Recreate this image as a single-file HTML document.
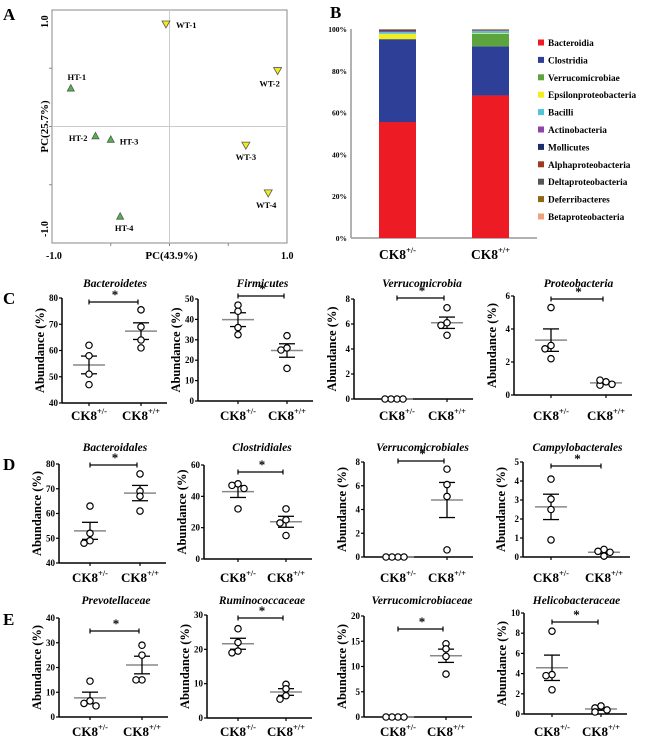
<!DOCTYPE html>
<html><head><meta charset="utf-8"><style>
html,body{margin:0;padding:0;background:#fff}
svg{display:block;font-family:"Liberation Serif",serif;font-weight:bold}
</style></head><body>
<svg id="fig" width="650" height="738" viewBox="0 0 650 738" xmlns="http://www.w3.org/2000/svg">
<text x="3" y="20" font-size="17">A</text>
<text x="330" y="18" font-size="17">B</text>
<text x="3" y="304" font-size="17">C</text>
<text x="3" y="470" font-size="17">D</text>
<text x="3" y="625" font-size="17">E</text>
</svg>
<script>
// ---- Panel A data ----
const pcaNames = ["WT-1","WT-2","HT-1","HT-2","HT-3","WT-3","WT-4","HT-4"];
const pcaX = [-0.03,0.92,-0.84,-0.63,-0.5,0.65,0.84,-0.42];
const pcaY = [0.88,0.48,0.33,-0.08,-0.11,-0.16,-0.57,-0.77];
// ---- Panel B data ----
const classNames = ["Bacteroidia","Clostridia","Verrucomicrobiae","Epsilonproteobacteria","Bacilli","Actinobacteria","Mollicutes","Alphaproteobacteria","Deltaproteobacteria","Deferribacteres","Betaproteobacteria"];
const hetComposition = [55.5,39.5,0.2,2.5,0.8,0.4,0.4,0.2,0.2,0.2,0.1];
const wtComposition = [68.2,23.5,6,0.3,1,0.2,0.2,0.2,0.1,0.2,0.1];
const compTicks = ["0%","20%","40%","60%","80%","100%"];
// ---- Scatter panels data ----
const bacteroidetesHet=[62,58,51,47], bacteroidetesWt=[75.5,69,64,61];
const firmicutesHet=[47,44,36,32.5], firmicutesWt=[32,26,25,16];
const verrucomicrobiaHet=[0,0,0,0], verrucomicrobiaWt=[7.3,6.1,5.9,5.1];
const proteobacteriaHet=[5.3,3.0,2.8,2.2], proteobacteriaWt=[0.8,0.6,0.65,0.9];
const bacteroidalesHet=[63,52,49,48], bacteroidalesWt=[76,69,67,61];
const clostridialesHet=[48,47,45,32], clostridialesWt=[32,25,23,15];
const verrucomicrobialesHet=[0,0,0,0], verrucomicrobialesWt=[7.4,6.1,5.1,0.6];
const campylobacteralesHet=[4.1,3.05,2.5,0.9], campylobacteralesWt=[0.4,0.3,0.25,0.05];
const prevotellaceaeHet=[14.5,6.5,5.5,4.5], prevotellaceaeWt=[29,25,15,15];
const ruminococcaceaeHet=[26,22,19.5,19], ruminococcaceaeWt=[9.8,8.5,6.5,5.5];
const verrucomicrobiaceaeHet=[0,0,0,0], verrucomicrobiaceaeWt=[14.5,13.5,12,8.5];
const helicobacteraceaeHet=[8.2,3.9,3.8,2.4], helicobacteraceaeWt=[0.8,0.6,0.4,0.2];

const NS="http://www.w3.org/2000/svg";
const svg=document.getElementById('fig');
function mk(tag,attrs,parent){const e=document.createElementNS(NS,tag);for(const k in attrs)e.setAttribute(k,attrs[k]);(parent||svg).appendChild(e);return e;}

// ===== Panel A =====
(function(){
  const g=mk('g',{});
  
  
  const L=52,R=287,T=10,B=243;
  const sx=v=>169.5+v*117.5, sy=v=>126.5-v*116.5;
  const box=mk('rect',{x:L,y:T,width:R-L,height:B-T,fill:'none',stroke:'#888','stroke-width':1},g);
  
  mk('line',{x1:sx(0),x2:sx(0),y1:T,y2:B,stroke:'#ccc'},g);
  mk('line',{x1:L,x2:R,y1:sy(0),y2:sy(0),stroke:'#ccc'},g);
  [-0.5,0,0.5].forEach(v=>{mk('line',{x1:L-3,x2:L,y1:sy(v),y2:sy(v),stroke:'#888'},g);mk('line',{x1:sx(v),x2:sx(v),y1:B,y2:B+3,stroke:'#888'},g);});
  const t1=mk('text',{x:sx(-1)-6,y:B+16,'font-size':10},g);t1.textContent='-1.0';
  
  const t2=mk('text',{x:sx(1)-6,y:B+16,'font-size':10},g);t2.textContent='1.0';
  
  const t3=mk('text',{x:0,y:0,'font-size':10,'text-anchor':'middle',transform:`translate(${L-4},${sy(0.9)}) rotate(-90)`},g);t3.textContent='1.0';
  
  const t4=mk('text',{x:0,y:0,'font-size':10,'text-anchor':'middle',transform:`translate(${L-4},${sy(-0.88)}) rotate(-90)`},g);t4.textContent='-1.0';
  
  const xt=mk('text',{x:sx(0)+2,y:B+16,'font-size':11,'text-anchor':'middle'},g);xt.textContent='PC(43.9%)';
  
  const yt=mk('text',{x:0,y:0,'font-size':11,'text-anchor':'middle',transform:`translate(${L-4},${sy(0)}) rotate(-90)`},g);yt.textContent='PC(25.7%)';
  
  const lblOff={"WT-1":[10,4,'start'],"WT-2":[-8,16,'middle'],"HT-1":[6,-8,'middle'],"HT-2":[-8,5,'end'],"HT-3":[9,5,'start'],"WT-3":[0,15,'middle'],"WT-4":[-2,15,'middle'],"HT-4":[4,15,'middle']};
  pcaNames.forEach((n,i)=>{
    const x=sx(pcaX[i]),y=sy(pcaY[i]);const wt=n.startsWith('WT');
    const pts=wt?`${x-4},${y-3} ${x+4},${y-3} ${x},${y+4}`:`${x-3.5},${y+3} ${x+3.5},${y+3} ${x},${y-3.5}`;
    const p=mk('polygon',{points:pts,fill:wt?'#F2EA1E':'#4CB848',stroke:'#555','stroke-width':0.8},g);
    
    
    const o=lblOff[n];
    const t=mk('text',{x:x+o[0],y:y+o[1],'font-size':8.5,'text-anchor':o[2]},g);t.textContent=n;
    
    
  });
})();

// ===== Panel B =====
(function(){
  const colors=['#ED1C24','#2E3F97','#5DA33E','#F4EB22','#4FC3D9','#8E44A8','#1B2E6B','#9C3B1E','#555555','#8B6914','#F0A07A'];
  const g=mk('g',{});
  
  
  const ax=351,yb=238,yt=29;const sy=p=>yb-p*(yb-yt)/100;
  mk('line',{x1:ax,x2:ax,y1:yt,y2:yb,stroke:'#999','stroke-width':1.5},g);
  mk('line',{x1:ax,x2:537,y1:yb,y2:yb,stroke:'#999','stroke-width':1.5},g);
  compTicks.forEach((s,i)=>{const t=mk('text',{x:ax-4,y:sy(i*20)+3,'font-size':7.5,'text-anchor':'end'},g);t.textContent=s;
    });
  [[hetComposition,379,'het','+/-'],[wtComposition,472,'wt','+/+']].forEach(([arr,x,k,sup])=>{
    let acc=0;
    arr.forEach((v,i)=>{const r=mk('rect',{x:x,y:sy(acc+v),width:37,height:Math.max(0,sy(acc)-sy(acc+v)),fill:colors[i]},g);
      
      acc+=v;});
    const t=mk('text',{x:x+18.5,y:259,'font-size':13.5,'text-anchor':'middle'},g);
    
    t.appendChild(document.createTextNode('CK8'));
    const ts=mk('tspan',{'font-size':8.5,dy:-6},t);ts.textContent=sup;
  });
  classNames.forEach((n,i)=>{
    const y=44+i*17.4;
    const r=mk('rect',{x:538,y:y-4.5,width:6,height:6,fill:colors[i]},g);
    
    const t=mk('text',{x:548,y:y+2,'font-size':9.3},g);t.textContent=n;
    
  });
})();

// ===== Scatter panels =====
function scatter(cfg){
  const {name,title,het,wt,ax,top,bot,ymin,ymax,step,c1,c2,brY,titleY,labelY}=cfg;
  const g=mk('g',{});
  
  
  const sy=v=>bot-(v-ymin)*(bot-top)/(ymax-ymin);
  const xEnd=c2+26;
  mk('line',{x1:ax,x2:ax,y1:top,y2:bot,stroke:'#000','stroke-width':1.5},g);
  mk('line',{x1:ax,x2:xEnd,y1:bot,y2:bot,stroke:'#000','stroke-width':1.5},g);
  [c1,c2].forEach(c=>mk('line',{x1:c,x2:c,y1:bot,y2:bot+3,stroke:'#000','stroke-width':1.2},g));
  for(let v=ymin;v<=ymax+1e-9;v+=step){
    mk('line',{x1:ax-3,x2:ax,y1:sy(v),y2:sy(v),stroke:'#000','stroke-width':1.2},g);
    const t=mk('text',{x:ax-4,y:sy(v)+3,'font-size':9,'text-anchor':'end'},g);t.textContent=String(Math.round(v*10)/10);
    
  }
  const yl=mk('text',{x:0,y:0,'font-size':12.5,'text-anchor':'middle',transform:`translate(${ax-18},${(top+bot)/2}) rotate(-90)`},g);
  yl.textContent='Abundance (%)';
  const tt=mk('text',{x:(c1+c2)/2,y:titleY,'font-size':11.5,'font-style':'italic','text-anchor':'middle'},g);
  tt.textContent=title;
  [[het,c1,'het','+/-'],[wt,c2,'wt','+/+']].forEach(([arr,c,k,sup])=>{
    const m=arr.reduce((a,b)=>a+b,0)/arr.length;
    const sd=Math.sqrt(arr.reduce((a,b)=>a+(b-m)*(b-m),0)/(arr.length-1));
    const se=sd/Math.sqrt(arr.length);
    const ml=mk('line',{x1:c-16,x2:c+16,y1:sy(m),y2:sy(m),stroke:'#888','stroke-width':1.5},g);
    
    if(se>0){
      mk('line',{x1:c,x2:c,y1:sy(m+se),y2:sy(m-se),stroke:'#000','stroke-width':1.3},g);
      mk('line',{x1:c-8,x2:c+8,y1:sy(m+se),y2:sy(m+se),stroke:'#000','stroke-width':1.3},g);
      mk('line',{x1:c-8,x2:c+8,y1:sy(m-se),y2:sy(m-se),stroke:'#000','stroke-width':1.3},g);
    }
    const range=ymax-ymin;const placed=[];
    arr.forEach((v,i)=>{
      const near=placed.filter(p=>Math.abs(p.v-v)<range*0.035);
      let dx=0;
      if(near.length){const opts=[-6,6,-12,12,0];dx=opts.find(o=>!near.some(p=>Math.abs(p.dx-o)<5));if(dx===undefined)dx=0;}
      placed.push({v,dx});
      const ci=mk('circle',{cx:c+dx,cy:sy(v),r:3.2,fill:'#fff',stroke:'#000','stroke-width':1.2},g);
      
      
    });
    const t=mk('text',{x:c,y:labelY,'font-size':13,'text-anchor':'middle'},g);
    
    t.appendChild(document.createTextNode('CK8'));
    const ts=mk('tspan',{'font-size':8.5,dy:-6},t);ts.textContent=sup;
  });
  const br=mk('line',{x1:c1,x2:c2-3,y1:brY,y2:brY,stroke:'#000','stroke-width':1.2},g);
  
  mk('line',{x1:c1,x2:c1,y1:brY-2.5,y2:brY+2.5,stroke:'#000','stroke-width':1.2},g);
  mk('line',{x1:c2-3,x2:c2-3,y1:brY-2.5,y2:brY+2.5,stroke:'#000','stroke-width':1.2},g);
  const st=mk('text',{x:(c1+c2)/2,y:brY-3,'font-size':13,'text-anchor':'middle'},g);st.textContent='*';
  
}
const rC={titleY:287,labelY:420}, rD={titleY:451,labelY:582}, rE={titleY:604,labelY:736};
scatter({name:'bacteroidetes',title:'Bacteroidetes',het:bacteroidetesHet,wt:bacteroidetesWt,ax:62,top:298,bot:403,ymin:40,ymax:80,step:10,c1:89,c2:141,brY:302,...rC});
scatter({name:'firmicutes',title:'Firmicutes',het:firmicutesHet,wt:firmicutesWt,ax:198,top:299,bot:401,ymin:0,ymax:50,step:10,c1:238,c2:287,brY:296,...rC});
scatter({name:'verrucomicrobia',title:'Verrucomicrobia',het:verrucomicrobiaHet,wt:verrucomicrobiaWt,ax:354,top:299,bot:399,ymin:0,ymax:8,step:2,c1:397,c2:447,brY:298,...rC});
scatter({name:'proteobacteria',title:'Proteobacteria',het:proteobacteriaHet,wt:proteobacteriaWt,ax:514,top:296,bot:395,ymin:0,ymax:6,step:2,c1:551,c2:606,brY:299,...rC});
scatter({name:'bacteroidales',title:'Bacteroidales',het:bacteroidalesHet,wt:bacteroidalesWt,ax:59,top:464,bot:563,ymin:40,ymax:80,step:10,c1:90,c2:140,brY:465,...rD});
scatter({name:'clostridiales',title:'Clostridiales',het:clostridialesHet,wt:clostridialesWt,ax:204,top:465,bot:559,ymin:0,ymax:60,step:20,c1:238,c2:286,brY:472,...rD});
scatter({name:'verrucomicrobiales',title:'Verrucomicrobiales',het:verrucomicrobialesHet,wt:verrucomicrobialesWt,ax:364,top:462,bot:557,ymin:0,ymax:8,step:2,c1:398,c2:447,brY:461,...rD});
scatter({name:'campylobacterales',title:'Campylobacterales',het:campylobacteralesHet,wt:campylobacteralesWt,ax:523,top:462,bot:557,ymin:0,ymax:5,step:1,c1:551,c2:604,brY:466,...rD});
scatter({name:'prevotellaceae',title:'Prevotellaceae',het:prevotellaceaeHet,wt:prevotellaceaeWt,ax:59,top:618,bot:717,ymin:0,ymax:40,step:10,c1:90,c2:142,brY:631,...rE});
scatter({name:'ruminococcaceae',title:'Ruminococcaceae',het:ruminococcaceaeHet,wt:ruminococcaceaeWt,ax:207,top:615,bot:718,ymin:0,ymax:30,step:10,c1:238,c2:286,brY:618,...rE});
scatter({name:'verrucomicrobiaceae',title:'Verrucomicrobiaceae',het:verrucomicrobiaceaeHet,wt:verrucomicrobiaceaeWt,ax:364,top:616,bot:717,ymin:0,ymax:20,step:5,c1:398,c2:446,brY:629,...rE});
scatter({name:'helicobacteraceae',title:'Helicobacteraceae',het:helicobacteraceaeHet,wt:helicobacteraceaeWt,ax:524,top:613,bot:714,ymin:0,ymax:10,step:2,c1:552,c2:601,brY:622,...rE});
</script>
</body></html>
